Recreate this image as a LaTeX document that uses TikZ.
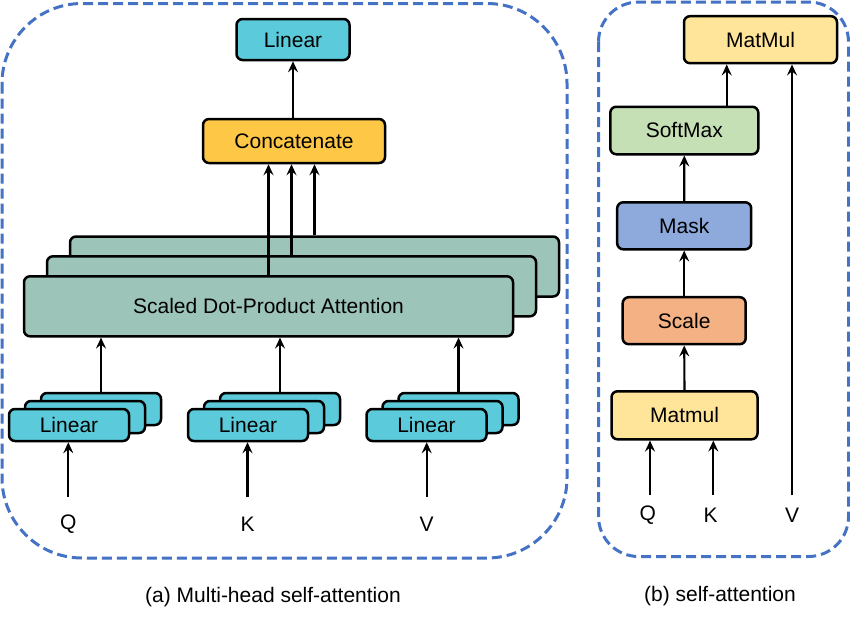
\documentclass[tikz,border=0pt]{standalone}
\usepackage{fontspec}
\setmainfont{Liberation Sans}
\usetikzlibrary{arrows.meta}
\definecolor{cLin}{RGB}{91,203,219}
\definecolor{cCat}{RGB}{254,200,70}
\definecolor{cAtt}{RGB}{156,196,185}
\definecolor{cMM}{RGB}{255,229,153}
\definecolor{cSoft}{RGB}{198,224,181}
\definecolor{cMask}{RGB}{142,169,219}
\definecolor{cScale}{RGB}{244,177,131}
\definecolor{cDash}{RGB}{68,114,196}
\tikzset{
  box/.style={draw=black, line width=2.5pt, rounded corners=6pt, inner sep=0pt,
    font=\fontsize{21}{24}\selectfont},
  arr/.style={line width=2.1pt, -{Stealth[length=11pt,width=10pt,inset=4pt]}},
  dashbox/.style={draw=cDash, line width=3pt, dash pattern=on 10pt off 5pt},
  lbl/.style={font=\fontsize{21}{24}\selectfont, inner sep=0pt},
  linbox/.style={box, fill=cLin, minimum width=120pt, minimum height=32pt},
  attbox/.style={box, fill=cAtt, minimum width=489pt, minimum height=60pt},
}
\begin{document}
\begin{tikzpicture}[x=1pt,y=-1pt]
\useasboundingbox (0,0) rectangle (850,621);
% dashed frames
\draw[dashbox, rounded corners=80pt] (2,3.5) rectangle (567,558);
\draw[dashbox, rounded corners=40pt] (598.5,2) rectangle (848.5,556.5);

% ---------- left panel ----------
\node[box, fill=cLin, minimum width=113pt, minimum height=41pt] (lintop) at (293,39.5) {Linear};
\node[box, fill=cCat, minimum width=182pt, minimum height=44pt] (concat) at (294,141) {Concatenate};

\node[attbox] (att3) at (314.5,266.5) {};
\node[attbox] (att2) at (291.5,286.3) {};
\node[attbox] (att1) at (268.5,306.3) {Scaled Dot-Product Attention};

% Linear stacks
\foreach \n/\x in {q/69,k/248,v/426.5}{
  \node[linbox] (\n3) at (\x+32,409) {};
  \node[linbox] (\n2) at (\x+16,417) {};
  \node[linbox] (\n1) at (\x,425) {Linear};
}
\node[lbl] (Q) at (68.3,524) {Q};
\node[lbl] (K) at (247.5,524) {K};
\node[lbl] (V) at (426.7,524) {V};
\coordinate (qs) at (68.3,497);
\coordinate (ks) at (247.5,497);
\coordinate (vs) at (426.7,497);

\draw[arr] (qs) -- (qs |- q1.south);
\draw[arr] (ks) -- (ks |- k1.south);
\draw[arr] (vs) -- (vs |- v1.south);
\draw[arr] (q3.north) -- (q3.north |- att1.south);
\draw[arr] (k3.north) -- (k3.north |- att1.south);
\draw[arr] (v3.north) -- (v3.north |- att1.south);

\draw[arr] (att1.north) -- (att1.north |- concat.south);
\draw[arr] (att2.north) -- (att2.north |- concat.south);
\draw[arr] (att3.north) -- (att3.north |- concat.south);
\draw[arr] (concat.north -| lintop.south) -- (lintop.south);

\node[lbl] (capa) at (273,597) {(a) Multi-head self-attention};

% ---------- right panel ----------
\node[box, fill=cMM, minimum width=153pt, minimum height=47pt] (mm2) at (760.5,39.7) {MatMul};
\node[box, fill=cSoft, minimum width=148pt, minimum height=47.5pt] (soft) at (684.3,130.5) {SoftMax};
\node[box, fill=cMask, minimum width=134pt, minimum height=47pt] (mask) at (684.2,225.8) {Mask};
\node[box, fill=cScale, minimum width=123pt, minimum height=47pt] (scale) at (684.2,320.7) {Scale};
\node[box, fill=cMM, minimum width=146pt, minimum height=48pt] (mm1) at (684.5,415.3) {Matmul};

\node[lbl] (Qr) at (647.7,515) {Q};
\node[lbl] (Kr) at (710.7,515) {K};
\node[lbl] (Vr) at (792,515) {V};
\coordinate (qrs) at (650,495);
\coordinate (krs) at (713.3,495);
\coordinate (vrs) at (792,495);
\coordinate (sx) at (726.7,0);

\draw[arr] (qrs) -- (qrs |- mm1.south);
\draw[arr] (krs) -- (krs |- mm1.south);
\draw[arr] (vrs) -- (vrs |- mm2.south);
\draw[arr] (mm1.north) -- (scale.south);
\draw[arr] (scale.north) -- (mask.south);
\draw[arr] (mask.north) -- (soft.south);
\draw[arr] (soft.north -| sx) -- (mm2.south -| sx);

\node[lbl] (capb) at (720,596) {(b) self-attention};
\end{tikzpicture}
\end{document}
